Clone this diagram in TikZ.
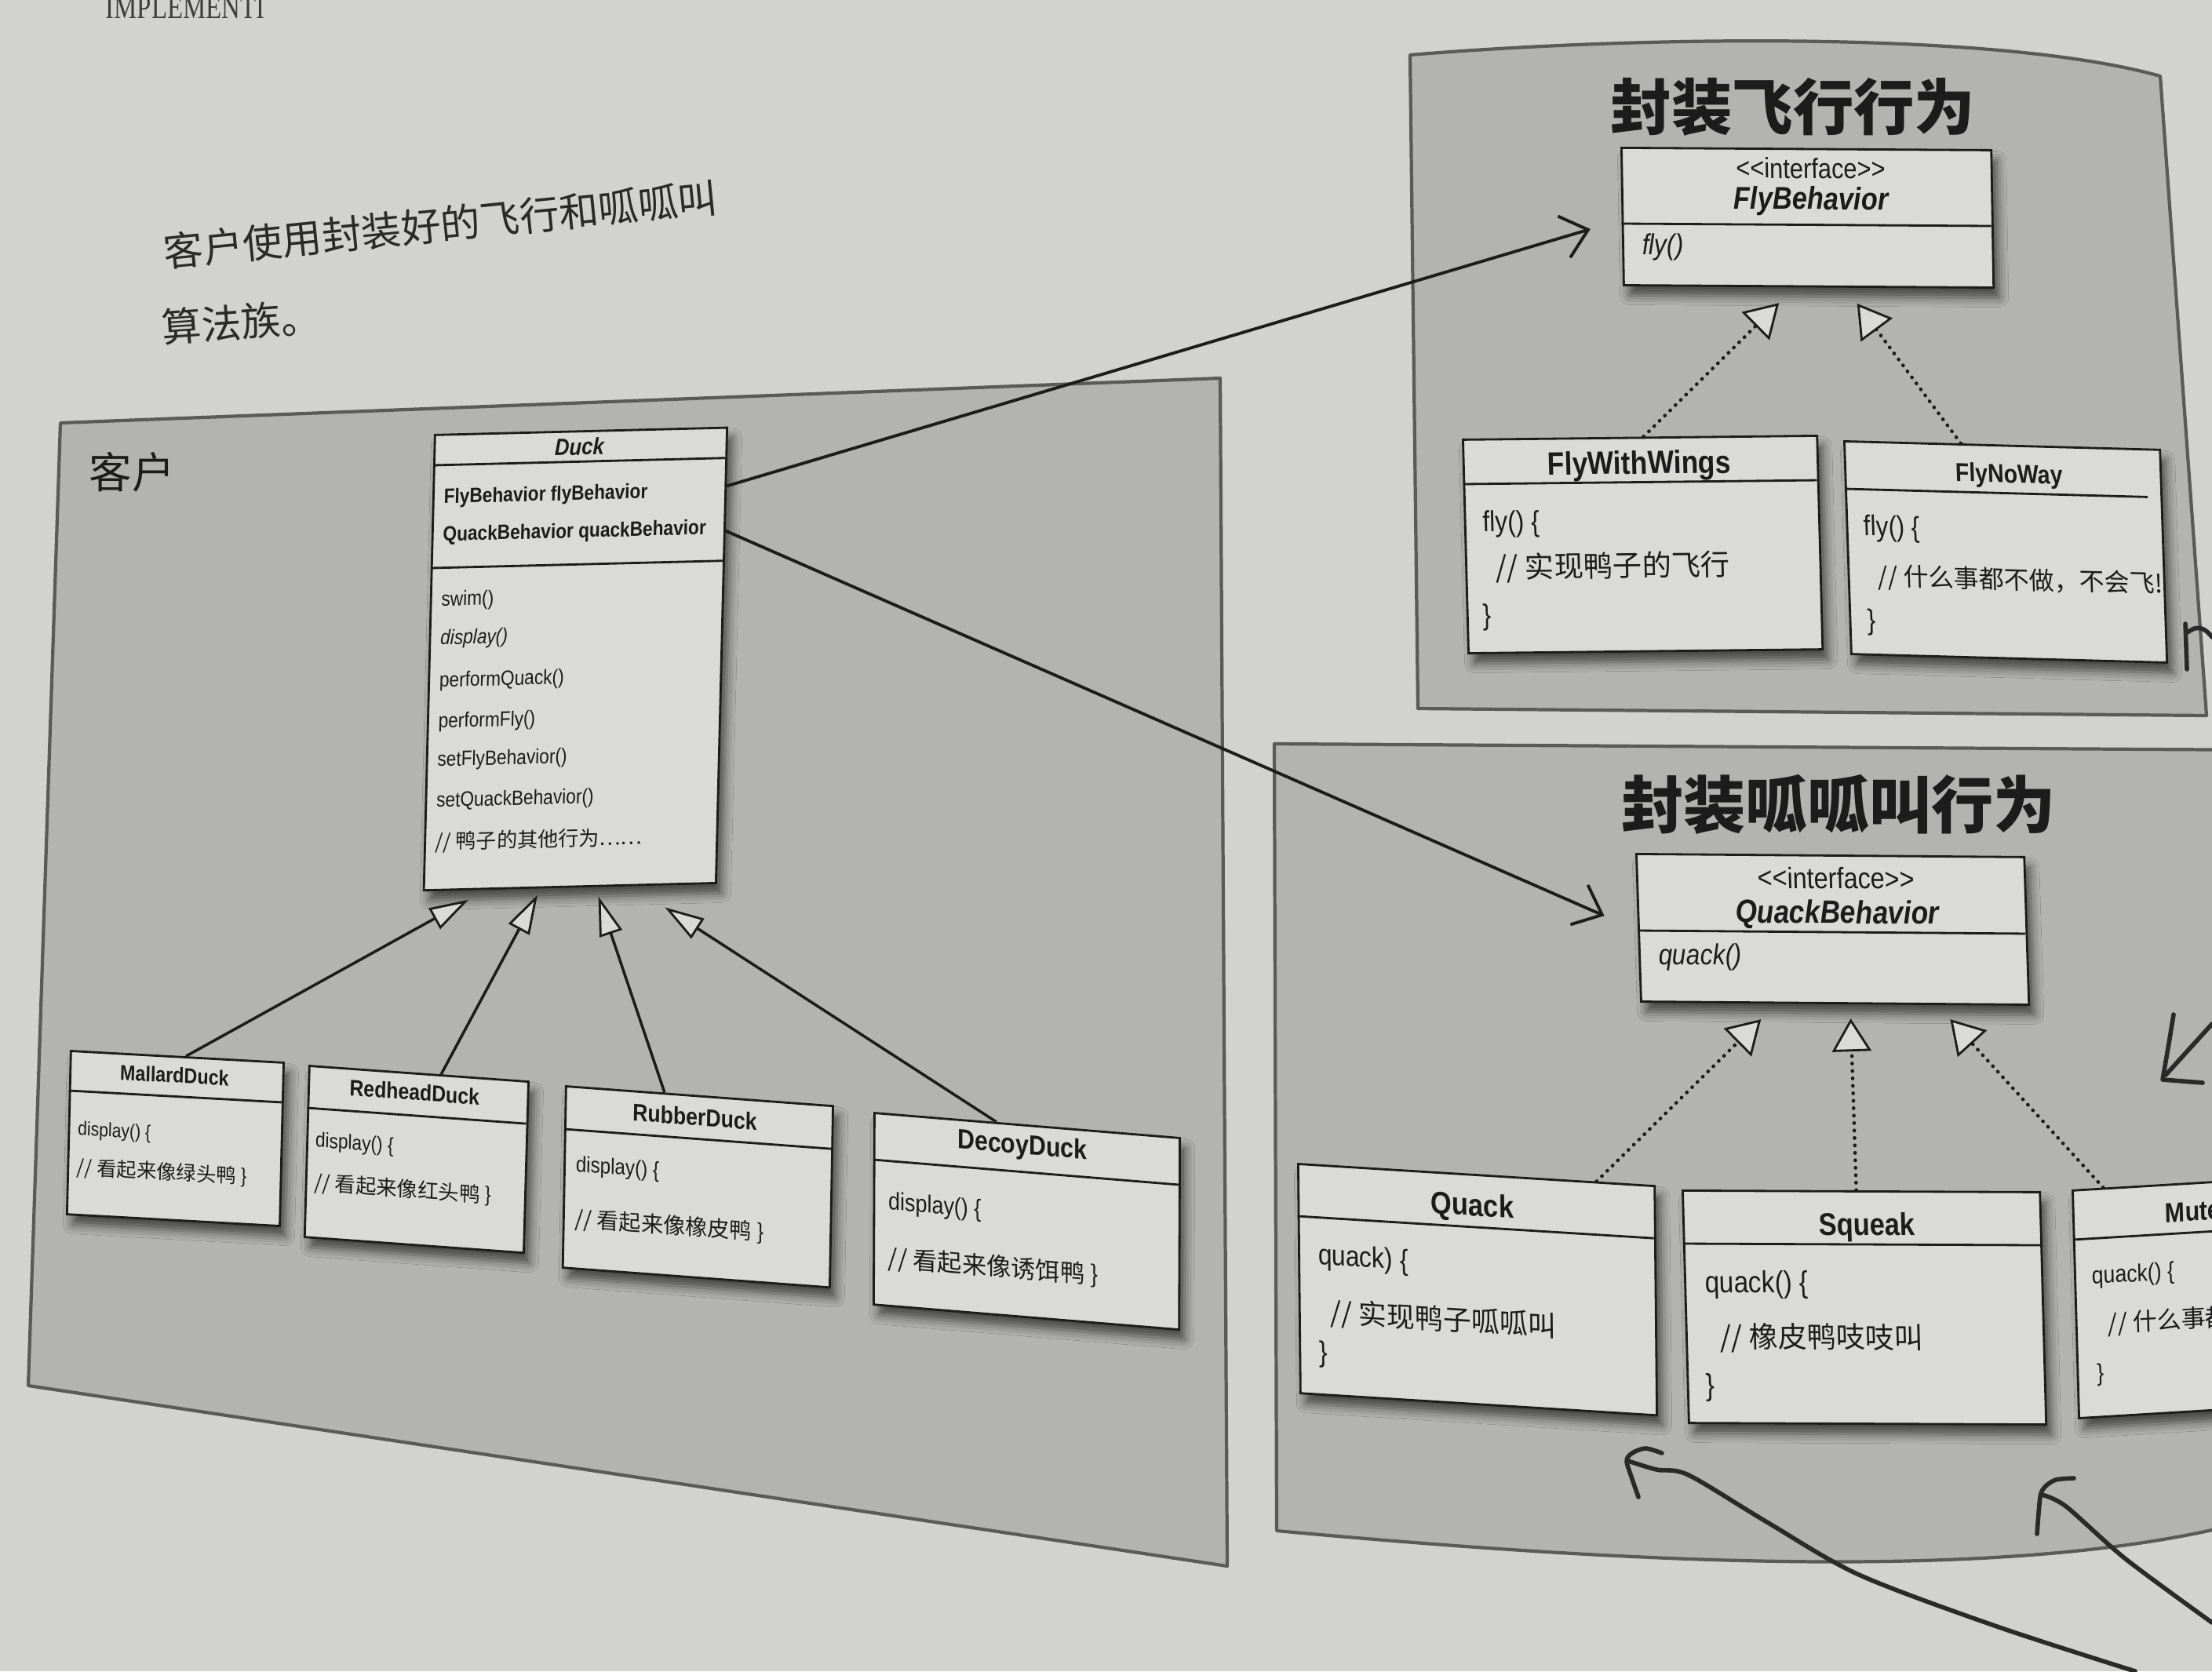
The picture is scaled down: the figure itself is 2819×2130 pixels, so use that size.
\documentclass[tikz,border=0pt]{standalone}
\usepackage{fontspec}
\setmainfont{Liberation Sans}
\newfontfamily\umlfont[FakeStretch=0.86]{Liberation Sans}
\newfontfamily\cjk{Noto Sans CJK SC}
\newfontfamily\pagefont[FakeStretch=0.78]{Liberation Serif}
\usetikzlibrary{arrows.meta,calc,shadows.blur}

\definecolor{paper}{HTML}{D2D2D0}
\definecolor{panel}{HTML}{B3B3B1}
\definecolor{card}{HTML}{DADAD8}
\definecolor{ink}{HTML}{1C1C1C}
\definecolor{rim}{HTML}{5A5A5A}
\definecolor{pen}{HTML}{2A2A2A}

\newcommand\setpt[1]{\fontsize{#1}{#1}\selectfont}

\tikzset{
  card/.style={draw=ink, fill=card, line width=0.8pt, anchor=north west, inner sep=0pt, transform shape,
    blur shadow={shadow xshift=0.07cm, shadow yshift=-0.13cm, shadow blur radius=0.12cm, shadow opacity=60}},
  rule/.style={draw=ink, line width=0.8pt},
  txt/.style={transform shape, inner sep=0pt, text=ink},
  head/.style={txt, anchor=center},
  body/.style={txt, anchor=base west},
  area/.style={fill=panel, draw=rim, line width=1.2pt, line join=round},
  inherit/.style={draw=ink, line width=1.0pt, -{Triangle[length=0.5cm, width=0.3cm, fill=card, line width=0.8pt]}},
  realize/.style={draw=ink, line width=1.3pt, line cap=round, dash pattern=on 0.1pt off 2.6pt,
    -{Triangle[length=0.42cm, width=0.5cm, fill=card, line width=0.8pt]}},
  uses/.style={draw=ink, line width=1.1pt, -{Straight Barb[length=0.32cm, width=0.55cm, line width=1.1pt]}},
  penline/.style={draw=pen, line width=1.6pt, line cap=round, line join=round},
}

\begin{document}
\begin{tikzpicture}[x=0.01cm, y=-0.01cm]
\useasboundingbox (0,0) rectangle (2819,2130);
\begin{scope}
\clip (0,0) rectangle (2819,2130);
\fill[paper] (0,0) rectangle (2819,2130);

% running head and handwritten note
\node[anchor=base west, inner sep=0pt, font=\pagefont\setpt{12}, text=ink!85] (runhead) at (134,24) {IMPLEMENTI};
\node[anchor=base west, inner sep=0pt, rotate=5.7, font=\cjk\setpt{14.4}, text=pen] (note1) at (210,341) {客户使用封装好的飞行和呱呱叫};
\node[anchor=base west, inner sep=0pt, rotate=4, font=\cjk\setpt{14.4}, text=pen] (note2) at (207,437) {算法族。};

% panels
\path[area] (77,539) -- (1555,482) -- (1564,1996) -- (36,1766) -- cycle;
\path[area] (1797,70) .. controls (2100,45) and (2550,40) .. (2753,97) -- (2812,912) -- (1807,903) -- cycle;
\path[area] (1624,948) -- (2900,956) -- (2900,1940) -- (2819,1950)
  .. controls (2500,2020) and (2000,1985) .. (1627,1951) -- cycle;

\node[font=\cjk\setpt{15.5}, text=ink, inner sep=0pt] (clientlabel) at (168,602) {客户};
\node[font=\cjk\bfseries\setpt{22}, text=ink, inner sep=0pt] (flytitle) at (2285,136) {封装飞行行为};
\node[font=\cjk\bfseries\setpt{22.5}, text=ink, inner sep=0pt] (quacktitle) at (2343,1025) {封装呱呱叫行为};

% ---------- client side ----------
\begin{scope}[cm={1,0.025,0.0245,1,(553,553)}]
  \node[card, minimum width=3.72cm, minimum height=5.8cm] (duck) at (0,0) {};
  \draw[rule] (0,40) -- (372,40);
  \draw[rule] (0,171) -- (372,171);
  \node[head, font=\umlfont\setpt{8.5}\bfseries\itshape] (duck-h) at (186,21) {Duck};
  \node[body, font=\umlfont\setpt{7.5}\bfseries] (duck-a1) at (14,89) {FlyBehavior flyBehavior};
  \node[body, font=\umlfont\setpt{7.5}\bfseries] (duck-a2) at (14,137) {QuackBehavior quackBehavior};
  \node[body, font=\umlfont\setpt{7.5}] (duck-m1) at (14,220) {swim()};
  \node[body, font=\umlfont\setpt{7.5}\itshape] (duck-m2) at (14,269) {display()};
  \node[body, font=\umlfont\setpt{7.5}] (duck-m3) at (14,323) {performQuack()};
  \node[body, font=\umlfont\setpt{7.5}] (duck-m4) at (14,375) {performFly()};
  \node[body, font=\umlfont\setpt{7.5}] (duck-m5) at (14,424) {setFlyBehavior()};
  \node[body, font=\umlfont\setpt{7.5}] (duck-m6) at (14,476) {setQuackBehavior()};
  \node[body, font=\cjk\setpt{7.4}] (duck-m7) at (14,530) {// 鸭子的其他行为……};
\end{scope}

\begin{scope}[cm={1,-0.055,0.024,1,(89,1338)}]
  \node[card, minimum width=2.71cm, minimum height=2.08cm] (mallard) at (0,0) {};
  \draw[rule] (0,52) -- (271,52);
  \node[head, font=\umlfont\setpt{7.7}\bfseries] (mallard-h) at (134,25) {MallardDuck};
  \node[body, font=\umlfont\setpt{7}] (mallard-b1) at (12,108) {display() \{};
  \node[body, font=\cjk\setpt{7.2}] (mallard-b2) at (12,158) {// 看起来像绿头鸭 \}};
\end{scope}

\begin{scope}[cm={1,-0.072,0.028,1,(393,1357)}]
  \node[card, minimum width=2.79cm, minimum height=2.18cm] (redhead) at (0,0) {};
  \draw[rule] (0,55) -- (279,55);
  \node[head, font=\umlfont\setpt{8.2}\bfseries] (redhead-h) at (136,25) {RedheadDuck};
  \node[body, font=\umlfont\setpt{7.5}] (redhead-b1) at (11,104) {display() \{};
  \node[body, font=\cjk\setpt{7.5}] (redhead-b2) at (11,159) {// 看起来像红头鸭 \}};
\end{scope}

\begin{scope}[cm={1,-0.074,0.018,1,(720,1383)}]
  \node[card, minimum width=3.40cm, minimum height=2.31cm] (rubber) at (0,0) {};
  \draw[rule] (0,56) -- (340,56);
  \node[head, font=\umlfont\setpt{8.8}\bfseries] (rubber-h) at (166,28) {RubberDuck};
  \node[body, font=\umlfont\setpt{8}] (rubber-b1) at (15,109) {display() \{};
  \node[body, font=\cjk\setpt{8}] (rubber-b2) at (15,179) {// 看起来像橡皮鸭 \}};
\end{scope}

\begin{scope}[cm={1,-0.082,0.004,1,(1113,1417)}]
  \node[card, minimum width=3.89cm, minimum height=2.44cm] (decoy) at (0,0) {};
  \draw[rule] (0,61) -- (389,61);
  \node[head, font=\umlfont\setpt{10}\bfseries] (decoy-h) at (190,29) {DecoyDuck};
  \node[body, font=\umlfont\setpt{8.9}] (decoy-b1) at (19,123) {display() \{};
  \node[body, font=\cjk\setpt{8.9}] (decoy-b2) at (19,196) {// 看起来像诱饵鸭 \}};
\end{scope}

% ---------- fly behaviours ----------
\begin{scope}[cm={1,-0.0064,-0.017,1,(2065,187)}]
  \node[card, minimum width=4.71cm, minimum height=1.75cm] (flyiface) at (0,0) {};
  \draw[rule] (0,98) -- (471,98);
  \node[head, font=\umlfont\setpt{10.2}] (flyiface-s) at (242,26) {<<interface>>};
  \node[head, font=\umlfont\setpt{11.4}\bfseries\itshape] (flyiface-h) at (242,68) {FlyBehavior};
  \node[body, font=\umlfont\setpt{10.5}\itshape] (flyiface-m) at (25,137) {fly()};
\end{scope}

\begin{scope}[cm={1,0.011,-0.026,1,(1863,559)}]
  \node[card, minimum width=4.51cm, minimum height=2.72cm] (flywings) at (0,0) {};
  \draw[rule] (0,58) -- (451,58);
  \node[head, font=\umlfont\setpt{11.7}\bfseries] (flywings-h) at (225,37) {FlyWithWings};
  \node[body, font=\umlfont\setpt{10.5}] (flywings-b1) at (23,119) {fly() \{};
  \node[body, font=\cjk\setpt{10.6}] (flywings-b2) at (38,178) {// 实现鸭子的飞行};
  \node[body, font=\umlfont\setpt{10.5}] (flywings-b3) at (20,238) {\}};
\end{scope}

\begin{scope}[cm={1,-0.027,-0.033,1,(2349,561)}]
  \node[card, minimum width=4.02cm, minimum height=2.71cm] (flynoway) at (0,0) {};
  \draw[rule] (0,62) -- (386,62);
  \node[head, font=\umlfont\setpt{9.4}\bfseries] (flynoway-h) at (210,40) {FlyNoWay};
  \node[body, font=\umlfont\setpt{10.4}] (flynoway-b1) at (22,121) {fly() \{};
  \node[body, font=\cjk\setpt{9.1}] (flynoway-b2) at (38,184) {// 什么事都不做，不会飞!};
  \node[body, font=\umlfont\setpt{10.4}] (flynoway-b3) at (23,241) {\}};
\end{scope}

% ---------- quack behaviours ----------
\begin{scope}[cm={1,-0.008,-0.032,1,(2084,1087)}]
  \node[card, minimum width=4.94cm, minimum height=1.88cm] (quackiface) at (0,0) {};
  \draw[rule] (0,99) -- (494,99);
  \node[head, font=\umlfont\setpt{10.7}] (quackiface-s) at (255,30) {<<interface>>};
  \node[head, font=\umlfont\setpt{11.7}\bfseries\itshape] (quackiface-h) at (255,77) {QuackBehavior};
  \node[body, font=\umlfont\setpt{10.5}\itshape] (quackiface-m) at (25,142) {quack()};
\end{scope}

\begin{scope}[cm={1,-0.062,-0.01,1,(1653,1482)}]
  \node[card, minimum width=4.54cm, minimum height=2.92cm] (quack) at (0,0) {};
  \draw[rule] (0,68) -- (454,68);
  \node[head, font=\umlfont\setpt{11.4}\bfseries] (quack-h) at (223,43) {Quack};
  \node[body, font=\umlfont\setpt{10.5}] (quack-b1) at (25,128) {quack) \{};
  \node[body, font=\cjk\setpt{10.2}] (quack-b2) at (40,201) {// 实现鸭子呱呱叫};
  \node[body, font=\umlfont\setpt{10.5}] (quack-b3) at (25,252) {\}};
\end{scope}

\begin{scope}[cm={1,-0.0044,-0.027,1,(2143,1516)}]
  \node[card, minimum width=4.55cm, minimum height=2.96cm] (squeak) at (0,0) {};
  \draw[rule] (0,69) -- (455,69);
  \node[head, font=\umlfont\setpt{11.4}\bfseries] (squeak-h) at (235,47) {Squeak};
  \node[body, font=\umlfont\setpt{11}] (squeak-b1) at (26,131) {quack() \{};
  \node[body, font=\cjk\setpt{10.5}] (squeak-b2) at (43,201) {// 橡皮鸭吱吱叫};
  \node[body, font=\umlfont\setpt{11}] (squeak-b3) at (24,262) {\}};
\end{scope}

\begin{scope}[cm={1,0.06,-0.028,1,(2640,1516)}]
  \node[card, minimum width=4.0cm, minimum height=2.90cm] (mute) at (0,0) {};
  \draw[rule] (0,64) -- (400,64);
  \node[head, font=\umlfont\setpt{10}\bfseries] (mute-h) at (200,40) {MuteQuack};
  \node[body, font=\umlfont\setpt{8.8}] (mute-b1) at (22,122) {quack() \{};
  \node[body, font=\cjk\setpt{8.8}] (mute-b2) at (41,185) {// 什么事都不做，不会叫!};
  \node[body, font=\umlfont\setpt{8.8}] (mute-b3) at (25,246) {\}};
\end{scope}

% ---------- connectors ----------
\draw[inherit] ($(mallard.north west)!0.54!(mallard.north east)$) -- ($(duck.south west)!0.156!(duck.south east)+(0,12)$);
\draw[inherit] ($(redhead.north west)!0.60!(redhead.north east)$) -- ($(duck.south west)!0.39!(duck.south east)+(0,8)$);
\draw[inherit] ($(rubber.north west)!0.37!(rubber.north east)$) -- ($(duck.south west)!0.597!(duck.south east)+(0,12)$);
\draw[inherit] ($(decoy.north west)!0.40!(decoy.north east)$) -- ($(duck.south west)!0.823!(duck.south east)+(0,28)$);

\draw[uses] ($(duck.north east)!0.13!(duck.south east)$) -- ($(flyiface.north west)!0.59!(flyiface.south west)+(-40,0)$);
\draw[uses] ($(duck.north east)!0.228!(duck.south east)$) -- ($(quackiface.north west)!0.42!(quackiface.south west)+(-42,0)$);

\draw[realize] ($(flywings.north west)!0.51!(flywings.north east)$) -- ($(flyiface.south west)!0.42!(flyiface.south east)+(0,20)$);
\draw[realize] ($(flynoway.north west)!0.37!(flynoway.north east)$) -- ($(flyiface.south west)!0.63!(flyiface.south east)+(0,20)$);
\draw[realize] ($(quack.north west)!0.835!(quack.north east)$) -- ($(quackiface.south west)!0.31!(quackiface.south east)+(0,20)$);
\draw[realize] ($(squeak.north west)!0.486!(squeak.north east)$) -- ($(quackiface.south west)!0.54!(quackiface.south east)+(0,18)$);
\draw[realize] ($(mute.north west)!0.1!(mute.north east)$) -- ($(quackiface.south west)!0.795!(quackiface.south east)+(0,18)$);

% ---------- pen marks in the margin ----------
\draw[penline] (2787,853) -- (2785,795);
\draw[penline] (2788,806) .. controls (2800,796) and (2810,800) .. (2819,812);
\draw[penline] (2770,1293) .. controls (2764,1330) .. (2756,1376) -- (2807,1380);
\draw[penline] (2760,1370) -- (2819,1305);
\draw[penline] plot[smooth] coordinates {(2721,2130) (2545,2073) (2369,2007) (2252,1940) (2152,1880) (2111,1873) (2075,1862)};
\draw[penline] plot[smooth] coordinates {(2118,1852) (2097,1846) (2080,1852) (2073,1862) (2080,1885) (2088,1908)};
\draw[penline] plot[smooth] coordinates {(2819,2068) (2709,1987) (2633,1920) (2602,1905)};
\draw[penline] plot[smooth] coordinates {(2643,1884) (2620,1886) (2606,1895) (2600,1908) (2596,1955)};
\end{scope}
\end{tikzpicture}
\end{document}
